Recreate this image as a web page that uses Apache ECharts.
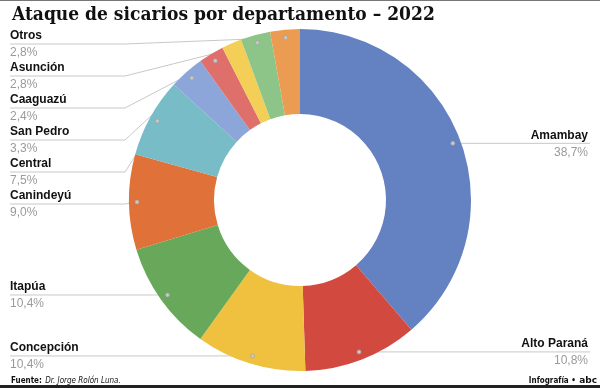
<!DOCTYPE html>
<html><head><meta charset="utf-8">
<script src="https://cdn.jsdelivr.net/npm/echarts@6/dist/echarts.min.js"></script>
<style>html,body{margin:0;padding:0;background:#fff}#c{width:600px;height:388px}</style>
</head><body><div id="c"></div>
<script>
// ---- data ----
const categories = ['Amambay','Alto Paraná','Concepción','Itapúa','Canindeyú','Central','San Pedro','Caaguazú','','Asunción','Otros'];
const values = [38.7, 10.8, 10.4, 10.4, 9.0, 7.5, 3.3, 2.4, 1.9, 2.8, 2.8];
const titleText = 'Ataque de sicarios por departamento – 2022';
const sourceText = 'Dr. Jorge Rolón Luna.';

// ---- styles ----
const colors = ['#6481c2','#d24a3f','#efc13e','#67a85a','#df7139','#77bcc7','#8ca6d9','#de6f6a','#f3cf58','#8dc487','#eb9c52'];
const CX = 300, CY = 200, R_IN = 86, R_OUT = 171, R_DOT = 163;
const FOOT_FONT = "'Liberation Sans Narrow', 'DejaVu Sans Condensed', sans-serif";

const total = values.reduce((a, b) => a + b, 0);
let cum = 0;
const mids = values.map(v => { const m = cum + v / 2; cum += v; return m; });
const anchors = mids.map(m => { const a = m / total * 2 * Math.PI; return [CX + R_DOT * Math.sin(a), CY - R_DOT * Math.cos(a)]; });
const right = mids.map(m => m / total < 0.5);
const labelY = anchors.map(p => p[1]);
const leftIdx = categories.map((c, i) => i).filter(i => !right[i] && categories[i]).sort((a, b) => anchors[a][1] - anchors[b][1]);
let prev = -Infinity;
leftIdx.forEach(i => { const y = Math.max(anchors[i][1], prev + 32, 44); labelY[i] = y; prev = y; });

const fmt = v => v.toFixed(1).replace('.', ',') + '%';

const chart = echarts.init(document.getElementById('c'), null, {renderer: 'canvas'});
chart.setOption({
  animation: false,
  title: {
    text: titleText, left: 7, top: 1,
    textStyle: {fontFamily: 'DejaVu Serif Condensed', fontWeight: 'bold', fontSize: 19, color: '#111'}
  },
  polar: {center: [CX, CY], radius: R_OUT},
  angleAxis: {type: 'value', min: 0, max: total, startAngle: 90, clockwise: true, show: false,
    axisLine: {show: false}, splitLine: {show: false}, axisTick: {show: false}, axisLabel: {show: false}},
  radiusAxis: {type: 'value', min: 0, max: R_OUT, show: false,
    axisLine: {show: false}, splitLine: {show: false}, axisTick: {show: false}, axisLabel: {show: false}},
  series: [{
    type: 'pie',
    center: [CX, CY],
    radius: [R_IN, R_OUT],
    startAngle: 90,
    clockwise: true,
    avoidLabelOverlap: false,
    z: 2,
    data: categories.map((c, i) => ({
      name: c, value: values[i], itemStyle: {color: colors[i]},
      label: {show: !!c}, labelLine: {show: !!c}
    })),
    label: {
      show: true, position: 'outside',
      formatter: p => right[p.dataIndex] ? '{nr|' + p.name + '}\n{pr|' + fmt(p.value) + '}' : '{n|' + p.name + '}\n{p|' + fmt(p.value) + '}',
      rich: {
        n: {fontFamily: 'Liberation Sans', fontWeight: 'bold', fontSize: 12, color: '#111', lineHeight: 16, align: 'left'},
        p: {fontFamily: 'Liberation Sans', fontSize: 12, color: '#9a9a9a', lineHeight: 18, align: 'left'},
        nr: {fontFamily: 'Liberation Sans', fontWeight: 'bold', fontSize: 12, color: '#111', lineHeight: 16, align: 'right'},
        pr: {fontFamily: 'Liberation Sans', fontSize: 12, color: '#9a9a9a', lineHeight: 18, align: 'right'}
      }
    },
    labelLine: {show: true, length: 10, length2: 10, smooth: false, lineStyle: {color: '#c8c8c8', width: 1}},
    labelLayout: function (p) {
      const i = p.dataIndex;
      if (!categories[i]) return {};
      const y = labelY[i], a = anchors[i];
      if (right[i]) {
        return {x: 588, y: y - 16, align: 'right', verticalAlign: 'top',
          labelLinePoints: [[a[0], a[1]], [a[0] + 1, y], [590, y]]};
      }
      return {x: 10, y: y - 16, align: 'left', verticalAlign: 'top',
        labelLinePoints: [[a[0], a[1]], [Math.min(125, a[0] - 1), y], [10, y]]};
    }
  }, {
    type: 'scatter',
    coordinateSystem: 'polar',
    z: 5,
    silent: true,
    symbol: 'circle',
    symbolSize: 4,
    itemStyle: {color: '#c9c9c9', borderColor: '#a0a0a0', borderWidth: 0.6, opacity: 1},
    data: mids.map((m, i) => categories[i] ? [R_DOT, m] : null).filter(d => d)
  }],
  graphic: [
    {type: 'rect', left: 0, top: 0, shape: {width: 600, height: 1}, style: {fill: '#777'}},
    {type: 'rect', left: 0, top: 385, shape: {width: 600, height: 3}, style: {fill: '#222'}},
    {type: 'text', left: 11, top: 375, style: {
      text: '{b|Fuente:} {i|' + sourceText + '}',
      rich: {
        b: {fontFamily: FOOT_FONT, fontWeight: 'bold', fontSize: 8, fill: '#111'},
        i: {fontFamily: FOOT_FONT, fontStyle: 'italic', fontSize: 8, fill: '#111'}
      }}},
    {type: 'text', right: 3, top: 375, style: {
      text: '{b|Infografía •} {l|abc}',
      rich: {
        b: {fontFamily: FOOT_FONT, fontWeight: 'bold', fontSize: 8, fill: '#111'},
        l: {fontFamily: 'DejaVu Sans', fontWeight: 'bold', fontSize: 9, fill: '#111'}
      }}}
  ]
});
</script>
</body></html>
